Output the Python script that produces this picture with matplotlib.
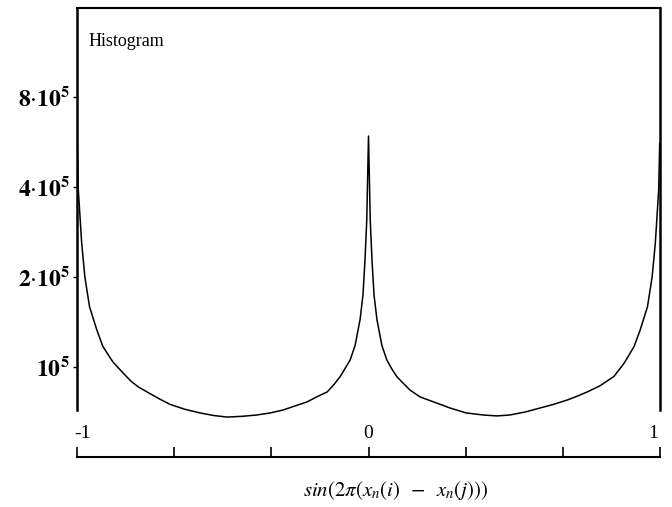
import matplotlib.pyplot as plt
from matplotlib.transforms import blended_transform_factory

plt.rcParams['font.family'] = 'Liberation Serif'
plt.rcParams['mathtext.fontset'] = 'stix'

x_vals = [-0.999, -0.9955, -0.984, -0.973, -0.957, -0.932, -0.911, -0.877,
          -0.842, -0.814, -0.790, -0.750, -0.715, -0.681, -0.630, -0.578,
          -0.530, -0.485, -0.433, -0.383, -0.337, -0.293, -0.250, -0.211,
          -0.177, -0.142, -0.120, -0.098, -0.080, -0.063, -0.046, -0.029,
          -0.019, -0.012, -0.006, 0.0, 0.006, 0.012, 0.019, 0.029,
          0.046, 0.063, 0.080, 0.098, 0.108, 0.142, 0.177, 0.230,
          0.280, 0.335, 0.393, 0.440, 0.485, 0.540, 0.588, 0.635,
          0.681, 0.715, 0.750, 0.794, 0.842, 0.877, 0.911, 0.932,
          0.957, 0.973, 0.984, 0.9955, 0.999]
counts = [5.61e5, 3.91e5, 2.60e5, 2.00e5, 1.59e5, 1.33e5, 1.17e5, 1.04e5,
          0.955e5, 0.895e5, 0.858e5, 0.815e5, 0.780e5, 0.750e5, 0.722e5, 0.702e5,
          0.688e5, 0.680e5, 0.684e5, 0.691e5, 0.702e5, 0.718e5, 0.742e5, 0.764e5,
          0.795e5, 0.825e5, 0.870e5, 0.926e5, 0.990e5, 1.055e5, 1.18e5, 1.44e5,
          1.74e5, 2.28e5, 3.10e5, 5.92e5, 3.10e5, 2.28e5, 1.74e5, 1.44e5,
          1.18e5, 1.055e5, 0.985e5, 0.926e5, 0.905e5, 0.838e5, 0.794e5, 0.760e5,
          0.729e5, 0.702e5, 0.691e5, 0.686e5, 0.691e5, 0.708e5, 0.729e5, 0.750e5,
          0.775e5, 0.798e5, 0.825e5, 0.865e5, 0.930e5, 1.03e5, 1.17e5, 1.33e5,
          1.59e5, 2.00e5, 2.60e5, 3.91e5, 5.61e5]

y_ticks = [1e5, 2e5, 4e5, 8e5]
y_labels = [r'$\mathbf{10^5}$', r'$\mathbf{2}{\cdot}\mathbf{10^5}$',
            r'$\mathbf{4}{\cdot}\mathbf{10^5}$', r'$\mathbf{8}{\cdot}\mathbf{10^5}$']
x_ticks = [-1, -2/3, -1/3, 0, 1/3, 2/3, 1]
x_labels = ['-1', '0', '1']

fig = plt.figure(figsize=(6.72, 5.07), dpi=100)
ax = fig.add_axes([77/672, 50/507, 583/672, 449/507])

ax.plot(x_vals, counts, color='black', lw=1.1)

ax.set_yscale('log', base=2)
ax.set_xlim(-1, 1)
ax.set_ylim(0.5e5, 15.87e5)

# y axis: ticks pointing out, labels in bold
ax.set_yticks(y_ticks)
ax.set_yticklabels(y_labels, fontsize=17)
ax.minorticks_off()
ax.tick_params(axis='y', direction='out', length=3, width=1, pad=2)

# x axis drawn as a bracket below the curve, ticks pointing up
ax.set_xticks(x_ticks)
ax.set_xticklabels([])
ax.tick_params(axis='x', direction='in', length=7, width=1.2, top=False)

for side in ['left', 'right']:
    ax.spines[side].set_bounds(0.718e5, 15.87e5)
    ax.spines[side].set_linewidth(1.8)
ax.spines['top'].set_linewidth(1.5)
ax.spines['bottom'].set_linewidth(1.5)

trans = blended_transform_factory(ax.transData, ax.transAxes)
ax.text(-1.01, 0.053, x_labels[0], transform=trans, ha='left', va='center', fontsize=14)
ax.text(0, 0.053, x_labels[1], transform=trans, ha='center', va='center', fontsize=14)
ax.text(0.993, 0.053, x_labels[2], transform=trans, ha='right', va='center', fontsize=14)

ax.text(0.019, 0.925, 'Histogram', transform=ax.transAxes, fontsize=13,
        ha='left', va='center')

fig.text(396/672, 1 - 491/507, r'$sin(2\pi(x_n(i)\;\;-\;\;x_n(j)))$',
         ha='center', va='center', fontsize=15)

fig.savefig('out.png', dpi=100)
